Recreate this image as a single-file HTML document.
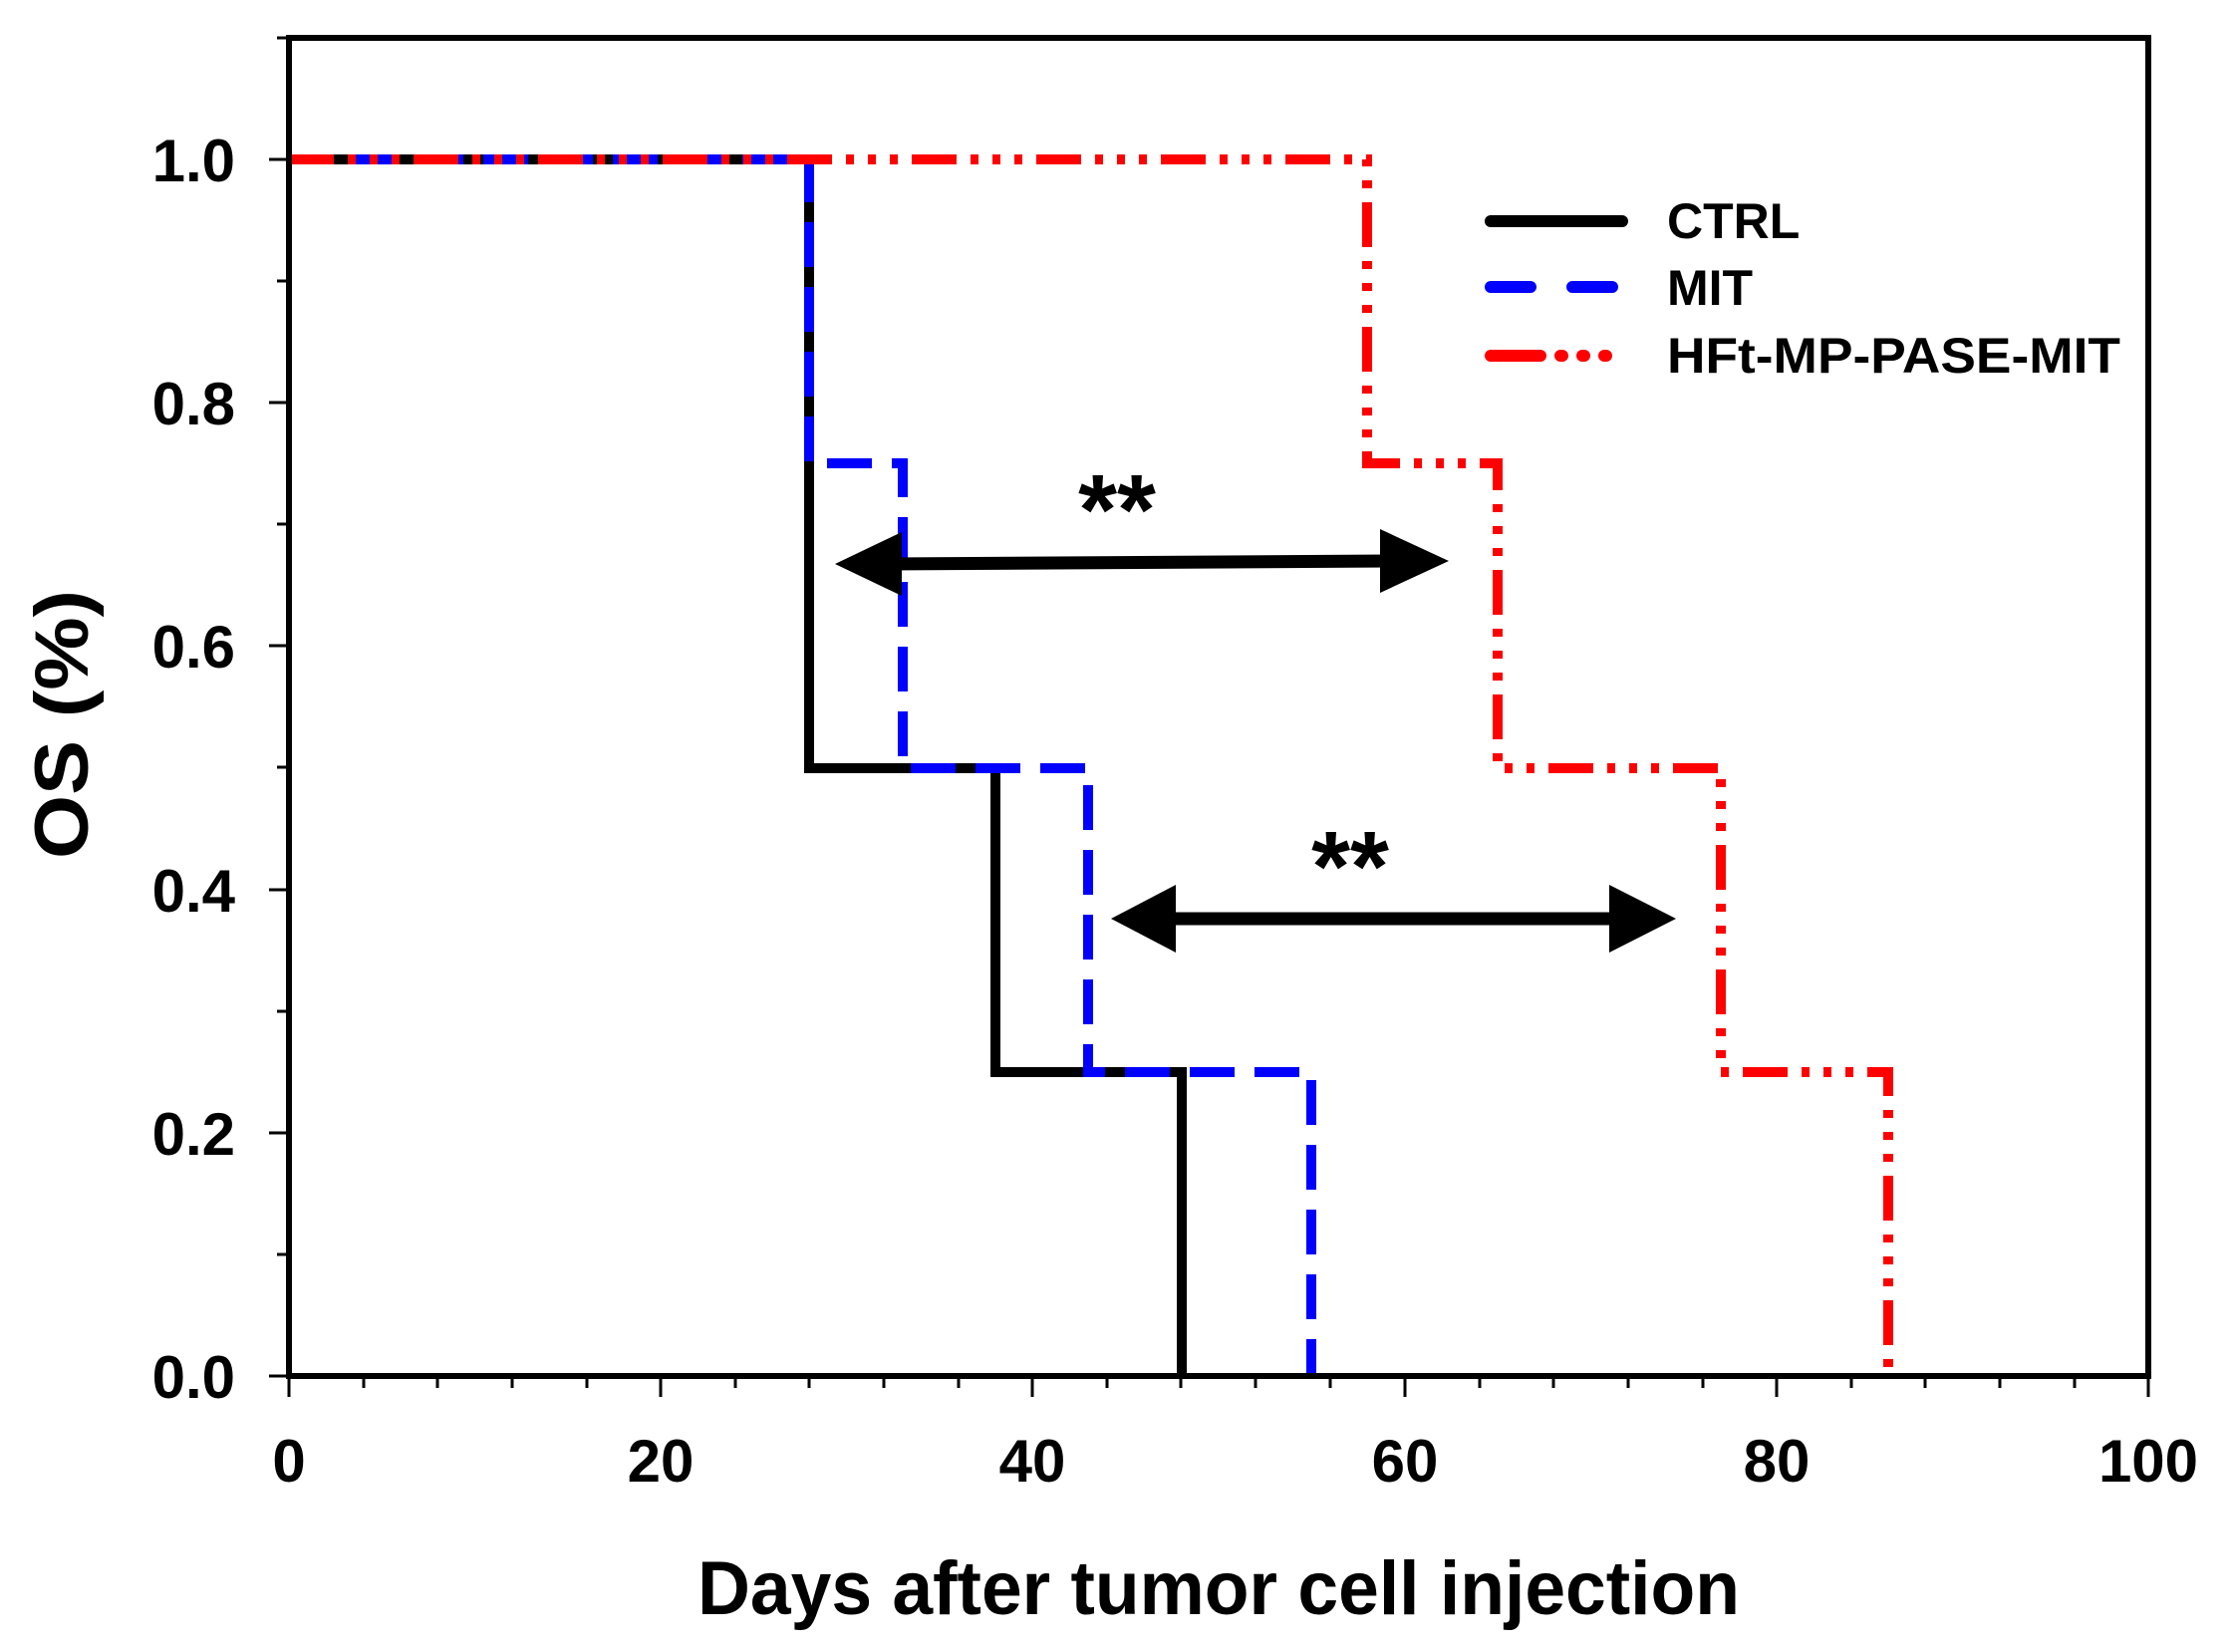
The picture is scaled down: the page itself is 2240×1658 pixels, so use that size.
<!DOCTYPE html>
<html><head><meta charset="utf-8"><style>html,body{margin:0;padding:0;background:#fff}svg{display:block}</style></head>
<body>
<svg width="2240" height="1658" viewBox="0 0 2240 1658" xmlns="http://www.w3.org/2000/svg" font-family="Liberation Sans, Arial, sans-serif" font-weight="bold">
<rect width="2240" height="1658" fill="#fff"/>
<g fill="none" stroke-width="10" stroke-linejoin="miter">
<polyline stroke="#000" points="290,160 812,160 812,771 999,771 999,1076 1186,1076 1186,1381"/>
<polyline stroke="#0000ff" stroke-dasharray="45,20" points="290,160 812,160 812,465 906,465 906,771 1092,771 1092,1076 1316,1076 1316,1381"/>
<polyline stroke="#ff0000" stroke-dasharray="45,14,8,14,8,14,8,14" points="290,160 1372,160 1372,465 1503,465 1503,771 1727,771 1727,1076 1895,1076 1895,1381"/>
</g>
<rect x="290" y="38" width="1866" height="1343" fill="none" stroke="#000" stroke-width="6"/>
<g stroke="#000" stroke-width="3">
<line x1="290" y1="1381" x2="290" y2="1402"/><line x1="663" y1="1381" x2="663" y2="1402"/><line x1="1036" y1="1381" x2="1036" y2="1402"/><line x1="1410" y1="1381" x2="1410" y2="1402"/><line x1="1783" y1="1381" x2="1783" y2="1402"/><line x1="2156" y1="1381" x2="2156" y2="1402"/>
<g id="mx"><line x1="365" y1="1381" x2="365" y2="1393"/><line x1="439" y1="1381" x2="439" y2="1393"/><line x1="514" y1="1381" x2="514" y2="1393"/><line x1="589" y1="1381" x2="589" y2="1393"/></g>
<use href="#mx" x="373"/><use href="#mx" x="746"/><use href="#mx" x="1120"/><use href="#mx" x="1493"/>
<line x1="270" y1="1381" x2="290" y2="1381"/><line x1="270" y1="1137" x2="290" y2="1137"/><line x1="270" y1="893" x2="290" y2="893"/><line x1="270" y1="648" x2="290" y2="648"/><line x1="270" y1="404" x2="290" y2="404"/><line x1="270" y1="160" x2="290" y2="160"/><line x1="278" y1="38" x2="290" y2="38"/>
<line x1="278" y1="1259" x2="290" y2="1259"/><line x1="278" y1="1015" x2="290" y2="1015"/><line x1="278" y1="770" x2="290" y2="770"/><line x1="278" y1="526" x2="290" y2="526"/><line x1="278" y1="282" x2="290" y2="282"/>
</g>
<g font-size="60" text-anchor="end" fill="#000">
<text x="236" y="1403">0.0</text><text x="236" y="1159">0.2</text><text x="236" y="915">0.4</text><text x="236" y="670">0.6</text><text x="236" y="426">0.8</text><text x="236" y="182">1.0</text>
</g>
<g font-size="60" text-anchor="middle" fill="#000">
<text x="290" y="1487">0</text><text x="663" y="1487">20</text><text x="1036" y="1487">40</text><text x="1410" y="1487">60</text><text x="1783" y="1487">80</text><text x="2156" y="1487">100</text>
</g>
<text x="700" y="1620" font-size="76" textLength="1046" lengthAdjust="spacingAndGlyphs">Days after tumor cell injection</text>
<text transform="translate(88,727) rotate(-90)" font-size="76" text-anchor="middle" textLength="270" lengthAdjust="spacingAndGlyphs">OS (%)</text>
<g stroke-width="12" stroke-linecap="round">
<line x1="1496" y1="222" x2="1628" y2="222" stroke="#000"/>
<line x1="1496" y1="288" x2="1628" y2="288" stroke="#0000ff" stroke-dasharray="40,42"/>
<line x1="1496" y1="357" x2="1628" y2="357" stroke="#ff0000" stroke-dasharray="50,20,2,20,2,20,2,20"/>
</g>
<g font-size="50" fill="#000">
<text x="1673" y="239">CTRL</text>
<text x="1673" y="306">MIT</text>
<text x="1673" y="374" textLength="455" lengthAdjust="spacingAndGlyphs">HFt-MP-PASE-MIT</text>
</g>
<line x1="890" y1="566" x2="1395" y2="563" stroke="#000" stroke-width="13"/>
<polygon points="838,566 905,534 905,598" fill="#000"/>
<polygon points="1454,563 1385,531 1385,595" fill="#000"/>
<line x1="1165" y1="922" x2="1630" y2="922" stroke="#000" stroke-width="13"/>
<polygon points="1115,922 1180,888 1180,956" fill="#000"/>
<polygon points="1682,922 1615,888 1615,956" fill="#000"/>
<g font-size="100" text-anchor="middle" fill="#000">
<text x="1121" y="546">**</text>
<text x="1355" y="904">**</text>
</g>
</svg>
</body></html>
